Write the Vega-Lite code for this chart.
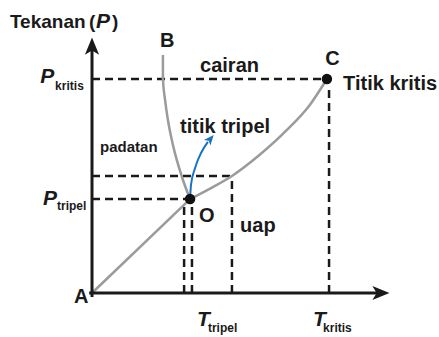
{
  "$schema": "https://vega.github.io/schema/vega-lite/v6.json",
  "width": 439,
  "height": 337,
  "autosize": {"type": "none"},
  "padding": 0,
  "background": "white",
  "config": {"view": {"stroke": null}},
  "datasets": {
    "axes": [
      {"T": 0, "P": -1.9, "T2": 0, "P2": 114},
      {"T": -1.2, "P": 0, "T2": 121, "P2": 0}
    ],
    "dashes": [
      {"T": 0, "P": 100, "T2": 98.7, "P2": 100},
      {"T": 0, "P": 54.7, "T2": 58.8, "P2": 54.7},
      {"T": 0, "P": 43.9, "T2": 41.2, "P2": 43.9},
      {"T": 58.8, "P": 0, "T2": 58.8, "P2": 54.7},
      {"T": 99.6, "P": 0, "T2": 99.6, "P2": 97},
      {"T": 38.7, "P": 0, "T2": 38.7, "P2": 41},
      {"T": 42.0, "P": 0, "T2": 42.0, "P2": 41}
    ],
    "curves": [
      {"curve": "OB", "i": 1, "T": 29.8, "P": 111.2},
      {"curve": "OB", "i": 2, "T": 29.8, "P": 100},
      {"curve": "OB", "i": 3, "T": 30.7, "P": 90.2},
      {"curve": "OB", "i": 4, "T": 31.9, "P": 80.8},
      {"curve": "OB", "i": 5, "T": 34.0, "P": 69.2},
      {"curve": "OB", "i": 6, "T": 37.8, "P": 54.2},
      {"curve": "OB", "i": 7, "T": 41.2, "P": 43.9},
      {"curve": "AO", "i": 1, "T": 0, "P": 0},
      {"curve": "AO", "i": 2, "T": 41.2, "P": 43.9},
      {"curve": "OC", "i": 1, "T": 41.2, "P": 43.9},
      {"curve": "OC", "i": 2, "T": 49.6, "P": 48.8},
      {"curve": "OC", "i": 3, "T": 58.8, "P": 54.7},
      {"curve": "OC", "i": 4, "T": 70.6, "P": 64.7},
      {"curve": "OC", "i": 5, "T": 81.9, "P": 76.2},
      {"curve": "OC", "i": 6, "T": 91.6, "P": 88.0},
      {"curve": "OC", "i": 7, "T": 98.7, "P": 100}
    ],
    "blue": [
      {"i": 1, "T": 41.2, "P": 43.9},
      {"i": 2, "T": 41.6, "P": 50.5},
      {"i": 3, "T": 43.3, "P": 58.4},
      {"i": 4, "T": 45.8, "P": 65.4},
      {"i": 5, "T": 48.7, "P": 70.6}
    ],
    "blueHead": [{"T": 49.6, "P": 71.8}],
    "yHead": [{"T": 0, "P": 114.9}],
    "xHead": [{"T": 121, "P": 0}],
    "dots": [
      {"name": "O", "T": 41.2, "P": 43.9},
      {"name": "C", "T": 98.7, "P": 100}
    ],
    "titleText": [
      {"T": -34.5, "P": 123.8, "label": "Tekanan"},
      {"T": -1.3, "P": 123.8, "label": "("},
      {"T": 8.4, "P": 123.8, "label": ")"}
    ],
    "bigText": [
      {"T": 28.6, "P": 115.0, "label": "B"},
      {"T": 45.4, "P": 103.3, "label": "cairan"},
      {"T": 98.0, "P": 106.5, "label": "C"},
      {"T": 105.5, "P": 94.9, "label": "Titik kritis"},
      {"T": 37.0, "P": 74.8, "label": "titik tripel"},
      {"T": 45.0, "P": 33.2, "label": "O"},
      {"T": 62.2, "P": 28.5, "label": "uap"},
      {"T": -7.6, "P": -4.7, "label": "A"}
    ],
    "smallText": [
      {"T": 3.4, "P": 65.9, "label": "padatan"}
    ],
    "italic": [
      {"T": 1.7, "P": 123.8, "label": "P"},
      {"T": -21.8, "P": 98.1, "label": "P"},
      {"T": -20.6, "P": 41.1, "label": "P"},
      {"T": 44.1, "P": -15.4, "label": "T"},
      {"T": 92.9, "P": -15.4, "label": "T"}
    ],
    "subText": [
      {"T": -15.5, "P": 94.9, "label": "kritis"},
      {"T": -14.7, "P": 38.8, "label": "tripel"},
      {"T": 48.7, "P": -18.0, "label": "tripel"},
      {"T": 97.1, "P": -18.0, "label": "kritis"}
    ]
  },
  "encoding": {
    "x": {"field": "T", "type": "quantitative", "axis": null, "scale": {"domain": [-38.66, 145.8], "nice": false, "zero": false}},
    "y": {"field": "P", "type": "quantitative", "axis": null, "scale": {"domain": [-20.56, 136.9], "nice": false, "zero": false}}
  },
  "layer": [
    {
      "data": {"name": "dashes"},
      "mark": {"type": "rule", "color": "#1a1a1a", "strokeWidth": 2.5, "strokeDash": [8, 5]},
      "encoding": {"x2": {"field": "T2"}, "y2": {"field": "P2"}}
    },
    {
      "data": {"name": "curves"},
      "mark": {"type": "line", "color": "#9b9b9b", "strokeWidth": 2.5, "interpolate": "monotone"},
      "encoding": {"detail": {"field": "curve"}, "order": {"field": "i"}}
    },
    {
      "data": {"name": "blue"},
      "mark": {"type": "line", "color": "#1673c4", "strokeWidth": 2, "interpolate": "monotone"},
      "encoding": {"order": {"field": "i"}}
    },
    {
      "data": {"name": "blueHead"},
      "mark": {"type": "point", "shape": "M0,-1L0.75,0.8L0,0.35L-0.75,0.8Z", "filled": true, "color": "#1673c4", "size": 130, "angle": 40, "opacity": 1}
    },
    {
      "data": {"name": "axes"},
      "mark": {"type": "rule", "color": "#1a1a1a", "strokeWidth": 3},
      "encoding": {"x2": {"field": "T2"}, "y2": {"field": "P2"}}
    },
    {
      "data": {"name": "yHead"},
      "mark": {"type": "point", "shape": "M0,-1L0.75,0.8L0,0.35L-0.75,0.8Z", "filled": true, "color": "#1a1a1a", "size": 360, "opacity": 1}
    },
    {
      "data": {"name": "xHead"},
      "mark": {"type": "point", "shape": "M0,-1L0.75,0.8L0,0.35L-0.75,0.8Z", "filled": true, "color": "#1a1a1a", "size": 360, "angle": 90, "opacity": 1}
    },
    {
      "data": {"name": "dots"},
      "mark": {"type": "point", "shape": "circle", "filled": true, "color": "#111111", "size": 110, "opacity": 1}
    },
    {
      "data": {"name": "titleText"},
      "mark": {"type": "text", "align": "left", "baseline": "alphabetic", "font": "Liberation Sans", "fontWeight": "bold", "fontSize": 19, "color": "#1a1a1a"},
      "encoding": {"text": {"field": "label"}}
    },
    {
      "data": {"name": "bigText"},
      "mark": {"type": "text", "align": "left", "baseline": "alphabetic", "font": "Liberation Sans", "fontWeight": "bold", "fontSize": 20, "color": "#1a1a1a"},
      "encoding": {"text": {"field": "label"}}
    },
    {
      "data": {"name": "smallText"},
      "mark": {"type": "text", "align": "left", "baseline": "alphabetic", "font": "Liberation Sans", "fontWeight": "bold", "fontSize": 15, "color": "#1a1a1a"},
      "encoding": {"text": {"field": "label"}}
    },
    {
      "data": {"name": "italic"},
      "mark": {"type": "text", "align": "left", "baseline": "alphabetic", "font": "Liberation Sans", "fontWeight": "bold", "fontStyle": "italic", "fontSize": 21, "color": "#1a1a1a"},
      "encoding": {"text": {"field": "label"}}
    },
    {
      "data": {"name": "subText"},
      "mark": {"type": "text", "align": "left", "baseline": "alphabetic", "font": "Liberation Sans", "fontWeight": "bold", "fontSize": 12, "color": "#1a1a1a"},
      "encoding": {"text": {"field": "label"}}
    }
  ]
}
